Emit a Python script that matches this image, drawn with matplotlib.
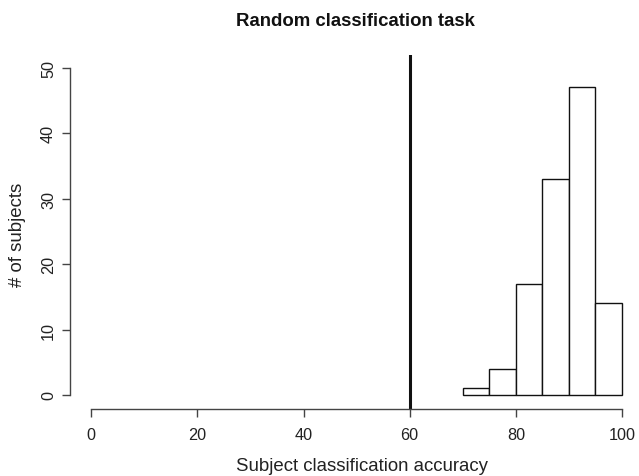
import matplotlib
matplotlib.use("Agg")
import matplotlib.pyplot as plt
import numpy as np

plt.rcParams['font.family'] = ['Liberation Sans', 'DejaVu Sans']

# histogram data
bin_left = [70, 75, 80, 85, 90, 95]
counts = [1, 4, 17, 33, 47, 14]
bin_width = 5
chance_line = 60
xticks = [0, 20, 40, 60, 80, 100]
yticks = [0, 10, 20, 30, 40, 50]

fig = plt.figure(figsize=(6.39, 4.77), dpi=100)
# axes box extends a bit past the right edge, like the cropped original
ax = fig.add_axes([0.1095, 0.1413, 0.8971, 0.7419])

ax.bar(bin_left, counts, width=bin_width, align='edge',
       facecolor='white', edgecolor='#111111', linewidth=1.0)
ax.axvline(chance_line, color='#111111', linewidth=2.2)

ax.set_xlim(-4, 104)
ax.set_ylim(-2.08, 52)

# R-style detached axes
for s in ['top', 'right']:
    ax.spines[s].set_visible(False)
ax.spines['left'].set_bounds(0, 50)
ax.spines['bottom'].set_bounds(0, 100)
for s in ['left', 'bottom']:
    ax.spines[s].set_color('#444444')
    ax.spines[s].set_linewidth(1.0)

ax.set_xticks(xticks)
ax.set_yticks(yticks)
ax.set_yticklabels([str(t) for t in yticks], rotation=90, va='center')
ax.tick_params(axis='both', length=6, width=1.0, color='#444444',
               labelsize=11.7, labelcolor='#222222')
ax.tick_params(axis='x', pad=7)
ax.tick_params(axis='y', pad=4)

fig.text(0.557, 0.954, 'Random classification task', ha='center', va='center',
         fontsize=13.4, fontweight='bold', color='#111111')
fig.text(0.567, 0.021, 'Subject classification accuracy', ha='center', va='center',
         fontsize=13.4, color='#222222')
fig.text(0.028, 0.507, '# of subjects', ha='center', va='center',
         rotation=90, fontsize=13.4, color='#222222')

fig.savefig('out.png', dpi=100)
